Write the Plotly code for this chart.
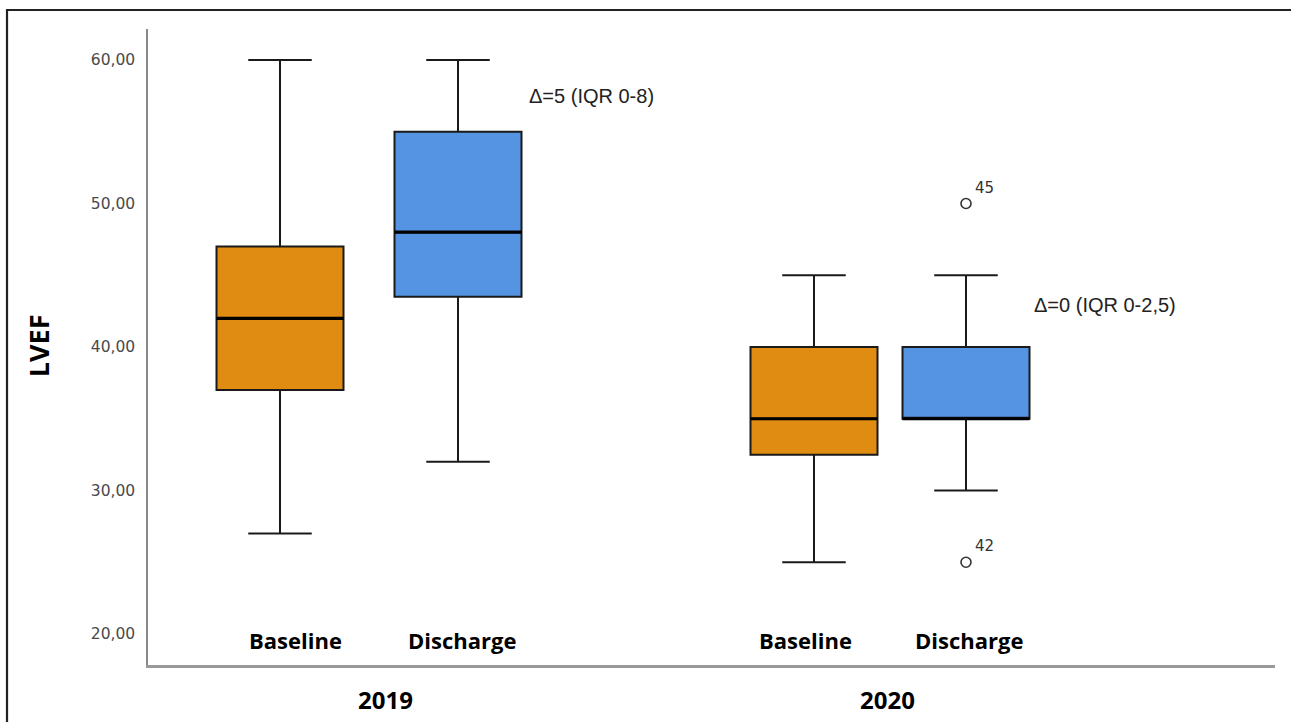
import plotly.graph_objects as go

# ---- data ----
groups = ["Baseline", "Discharge", "Baseline", "Discharge"]
years = ["2019", "2020"]
positions = [1.32, 3.10, 6.66, 8.18]
lower = [27, 32, 25, 30]
q1 = [37, 43.5, 32.5, 35]
median = [42, 48, 35, 35]
q3 = [47, 55, 40, 40]
upper = [60, 60, 45, 45]
outlier_x = [8.18, 8.18]
outlier_y = [50, 25]
outlier_ids = ["45", "42"]
deltas = ["\u0394=5 (IQR 0-8)", "\u0394=0 (IQR 0-2,5)"]
y_ticks = [20, 30, 40, 50, 60]
y_tick_text = ["20,00", "30,00", "40,00", "50,00", "60,00"]

# layout-only constants (label placement)
label_x = [1.47, 3.14, 6.57, 8.21]
year_x = [2.37, 7.39]

colors = ["#E08B12", "#5494E2", "#E08B12", "#5494E2"]
BOX_W = 1.27

fig = go.Figure()
for i in range(4):
    fig.add_trace(go.Box(
        x=[positions[i]], q1=[q1[i]], median=[median[i]], q3=[q3[i]],
        lowerfence=[lower[i]], upperfence=[upper[i]],
        width=BOX_W, whiskerwidth=0.5,
        fillcolor=colors[i], line=dict(color="#1a1a1a", width=2),
        boxpoints=False, showlegend=False, hoverinfo="skip",
    ))

# thicker median lines
mx, my = [], []
for p, m in zip(positions, median):
    mx += [p - BOX_W / 2, p + BOX_W / 2, None]
    my += [m, m, None]
fig.add_trace(go.Scatter(x=mx, y=my, mode="lines",
                         line=dict(color="black", width=3.2),
                         showlegend=False, hoverinfo="skip"))

# outliers
fig.add_trace(go.Scatter(x=outlier_x, y=outlier_y, mode="markers",
                         marker=dict(symbol="circle-open", size=10,
                                     color="#333", line=dict(width=1.6)),
                         showlegend=False, hoverinfo="skip"))

ann = []
for x, y, t in zip(outlier_x, outlier_y, outlier_ids):
    ann.append(dict(x=x, y=y, text=t, showarrow=False, xanchor="left",
                    yanchor="middle", xshift=7, yshift=16,
                    font=dict(family="DejaVu Sans", size=15, color="#333")))

# category labels inside plot
for x, g in zip(label_x, groups):
    ann.append(dict(x=x, y=19.6, text=f"<b>{g}</b>", showarrow=False,
                    xanchor="center", yanchor="middle",
                    font=dict(family="Open Sans", size=22, color="black")))

# year labels (below the axis)
for x, t in zip(year_x, years):
    ann.append(dict(x=x, xref="x", y=-0.055, yref="paper", text=f"<b>{t}</b>",
                    showarrow=False, xanchor="center", yanchor="middle",
                    font=dict(family="Open Sans", size=24, color="black")))

# delta annotations
ann.append(dict(x=3.79, y=57.5, text=deltas[0], showarrow=False,
                xanchor="left", yanchor="middle",
                font=dict(family="Liberation Sans", size=20, color="#222")))
ann.append(dict(x=8.84, y=42.93, text=deltas[1], showarrow=False,
                xanchor="left", yanchor="middle",
                font=dict(family="Liberation Sans", size=20, color="#222")))

# y axis title
ann.append(dict(x=-0.097, y=40.1, xref="paper", yref="y", text="<b>LVEF</b>",
                showarrow=False, textangle=-90, xanchor="center", yanchor="middle",
                font=dict(family="Open Sans", size=27, color="black")))

fig.update_layout(
    width=1291, height=722,
    margin=dict(l=148, r=16, t=29, b=57),
    paper_bgcolor="white", plot_bgcolor="white",
    annotations=ann,
    shapes=[dict(type="rect", xref="paper", yref="paper",
                 x0=-0.1251, x1=1.2, y0=-0.3, y1=1.0299,
                 line=dict(color="#222", width=2.2), layer="above")],
    xaxis=dict(range=[0, 11.27], showgrid=False, zeroline=False,
               showticklabels=False, ticks="",
               showline=True, linecolor="#999", linewidth=2.5),
    yaxis=dict(range=[17.84, 62.16], showgrid=False, zeroline=False,
               tickvals=y_ticks, ticktext=y_tick_text, ticks="",
               ticklabelstandoff=8,
               tickfont=dict(family="DejaVu Sans", size=15.5, color="#4a4a4a"),
               showline=True, linecolor="#888", linewidth=1.5),
)

fig.write_html("out.html", config={"displayModeBar": False},
               post_script="document.body.style.margin='0';"
                           "document.body.style.overflow='hidden';")
